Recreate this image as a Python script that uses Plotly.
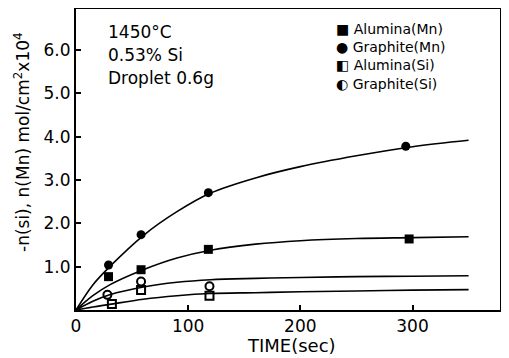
import plotly.graph_objects as go

# ---- data ----
alumina_mn_t = [29, 58, 118, 297]
alumina_mn_v = [0.77, 0.93, 1.40, 1.64]
graphite_mn_t = [29, 58, 118, 294]
graphite_mn_v = [1.04, 1.74, 2.71, 3.78]
alumina_si_t = [32, 58, 119]
alumina_si_v = [0.14, 0.46, 0.33]
graphite_si_t = [28, 58, 119]
graphite_si_v = [0.35, 0.66, 0.55]

curve_t = [0, 15, 30, 60, 90, 120, 160, 200, 250, 300, 350]
curve_mn_graphite = [0, 0.58, 1.00, 1.72, 2.27, 2.70, 3.05, 3.31, 3.56, 3.77, 3.92]
curve_mn_alumina = [0, 0.33, 0.58, 0.93, 1.20, 1.38, 1.52, 1.60, 1.65, 1.67, 1.69]
curve_si_graphite = [0, 0.20, 0.35, 0.53, 0.64, 0.70, 0.73, 0.75, 0.77, 0.78, 0.79]
curve_si_alumina = [0, 0.07, 0.13, 0.25, 0.33, 0.38, 0.40, 0.42, 0.44, 0.46, 0.47]

x_ticks = [0, 100, 200, 300]
y_ticks = [1, 2, 3, 4, 5, 6]
y_tick_labels = ["1.0", "2.0", "3.0", "4.0", "5.0", "6.0"]
legend_labels = ["■ Alumina(Mn)", "● Graphite(Mn)", "◧ Alumina(Si)", "◐ Graphite(Si)"]
condition_lines = ["1450°C", "0.53% Si", "Droplet 0.6g"]

FONT = "DejaVu Sans"
# page body has an 8px default margin; compensate so the plot lands where the reference has it
OFF = 8
PL, PT, PW, PH = 76, 9, 424, 301  # plot area in window pixels

fig = go.Figure()

for cv in [curve_mn_graphite, curve_mn_alumina, curve_si_graphite, curve_si_alumina]:
    fig.add_trace(go.Scatter(x=curve_t, y=cv, mode="lines",
                             line=dict(color="black", width=1.6, shape="spline", smoothing=1.0),
                             showlegend=False, hoverinfo="skip"))

fig.add_trace(go.Scatter(x=alumina_mn_t, y=alumina_mn_v, mode="markers", name="Alumina(Mn)",
                         marker=dict(symbol="square", size=9, color="black")))
fig.add_trace(go.Scatter(x=graphite_mn_t, y=graphite_mn_v, mode="markers", name="Graphite(Mn)",
                         marker=dict(symbol="circle", size=9, color="black")))
fig.add_trace(go.Scatter(x=alumina_si_t, y=alumina_si_v, mode="markers", name="Alumina(Si)",
                         marker=dict(symbol="square-open", size=8, color="black", line=dict(width=2))))
fig.add_trace(go.Scatter(x=graphite_si_t, y=graphite_si_v, mode="markers", name="Graphite(Si)",
                         marker=dict(symbol="circle-open", size=8, color="black", line=dict(width=2))))


def px(xp):
    return (xp - PL) / PW


def py(yp):
    return (PT + PH - yp) / PH


ann = []
for txt, yp in zip(condition_lines, [32, 55, 78]):
    ann.append(dict(text=txt, xref="paper", yref="paper", x=px(106), y=py(yp),
                    xanchor="left", yanchor="middle", showarrow=False,
                    font=dict(family=FONT, size=17, color="black")))
ann.append(dict(text="<br>".join(legend_labels), xref="paper", yref="paper", x=px(334), y=py(19),
                xanchor="left", yanchor="top", align="left", showarrow=False,
                font=dict(family=FONT, size=14, color="black")))
ann.append(dict(text="TIME(sec)", xref="paper", yref="paper", x=px(291), y=py(346),
                xanchor="center", yanchor="middle", showarrow=False,
                font=dict(family=FONT, size=18, color="black")))
ann.append(dict(text="-n(si), n(Mn) mol/cm<sup>2</sup>x10<sup>4</sup>", xref="paper", yref="paper",
                x=px(22), y=py(142), textangle=-90,
                xanchor="center", yanchor="middle", showarrow=False,
                font=dict(family=FONT, size=17, color="black")))

W, H = 509 - OFF, 358 - OFF
fig.update_layout(
    width=W, height=H,
    margin=dict(l=PL - OFF, r=W - (PL - OFF) - PW, t=PT - OFF, b=H - (PT - OFF) - PH, autoexpand=False),
    paper_bgcolor="white", plot_bgcolor="white",
    showlegend=False,
    annotations=ann,
    font=dict(family=FONT, color="black"),
)
fig.update_xaxes(range=[0, 378], tickvals=x_ticks, ticktext=[str(v) for v in x_ticks],
                 ticks="inside", ticklen=5, tickwidth=1.5, tickcolor="black",
                 showline=True, linewidth=2, linecolor="black", mirror=True, automargin=False,
                 showgrid=False, zeroline=False, tickfont=dict(family=FONT, size=17, color="black"))
fig.update_yaxes(range=[0, 6.95], tickvals=y_ticks, ticktext=y_tick_labels,
                 ticks="inside", ticklen=5, tickwidth=1.5, tickcolor="black",
                 showline=True, linewidth=2, linecolor="black", mirror=True, automargin=False,
                 showgrid=False, zeroline=False, tickfont=dict(family=FONT, size=17, color="black"))

fig.write_html("out.html")
